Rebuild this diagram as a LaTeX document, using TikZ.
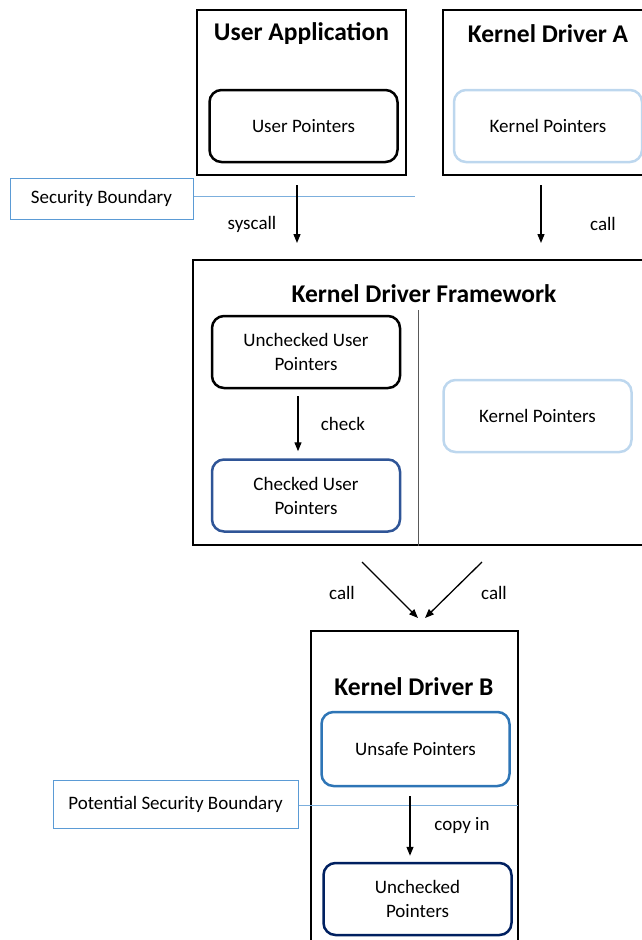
\documentclass[tikz,border=0pt]{standalone}
\usepackage{fontspec}
\setmainfont{Carlito}
\usetikzlibrary{arrows.meta}
\definecolor{paleblue}{HTML}{BDD7EE}
\definecolor{midblue}{HTML}{2E75B6}
\definecolor{checkblue}{HTML}{2F5597}
\definecolor{navyblue}{HTML}{002060}
\definecolor{bndblue}{HTML}{5B9BD5}
\definecolor{divgray}{HTML}{595959}

\begin{document}
\begin{tikzpicture}[x=1pt,y=-1pt,
  frame/.style={draw=black, line width=1.2pt, inner sep=0pt},
  heading/.style={font=\fontsize{25.5}{30}\selectfont\bfseries, inner sep=0pt},
  ptr/.style={draw, rounded corners=12pt, line width=2.5pt, align=center,
    inner sep=0pt, minimum width=188pt, minimum height=72pt,
    font=\fontsize{19}{24}\selectfont},
  bound/.style={draw=bndblue, line width=1pt, inner sep=0pt,
    font=\fontsize{19}{23}\selectfont},
  bline/.style={draw=bndblue!80, line width=0.9pt},
  flow/.style={-{Triangle[length=9pt,width=7pt]}, line width=1.3pt},
  lbl/.style={font=\fontsize{19}{23}\selectfont, inner sep=0pt}]
\useasboundingbox (0,0) rectangle (642,940);
\clip (0,0) rectangle (642,940);

% top row: user application and driver A
\node[frame, minimum width=209pt, minimum height=165pt] (ua) at (301.5,92.5) {};
\node[heading] (uat) at (301.5,34) {User Application};
\node[ptr] (up) at (303.5,126) {User Pointers};

\node[frame, minimum width=212pt, minimum height=165pt] (kda) at (549,92.5) {};
\node[heading] (kdat) at (548,34) {Kernel Driver A};
\node[ptr, draw=paleblue] (kpa) at (548,126) {Kernel Pointers};

% security boundary
\node[bound, minimum width=183pt, minimum height=41pt] (sb) at (101.5,198.5) {Security Boundary};
\coordinate (sbend) at (415,196);
\draw[bline] (sb.east |- sbend) -- (sbend);

% calls into the framework
\coordinate (s1) at (297,185);
\coordinate (e1) at (297,243);
\coordinate (s2) at (541,185);
\coordinate (e2) at (541,243);
\draw[flow] (s1) -- (e1);
\draw[flow] (s2) -- (e2);
\node[lbl] (lsys) at (252,224) {syscall};
\node[lbl] (lcall1) at (603,224) {call};

% framework
\node[frame, minimum width=467pt, minimum height=285pt] (fw) at (426.5,402.5) {};
\node[heading] (fwt) at (424,294) {Kernel Driver Framework};
\coordinate (dtop) at (418,310);
\draw[divgray, line width=1pt] (dtop) -- (dtop |- fw.south);
\node[ptr] (uup) at (306,352) {Unchecked User\\Pointers};
\node[ptr, draw=checkblue] (cup) at (306,495.5) {Checked User\\Pointers};
\draw[flow] ([xshift=-8pt,yshift=-7pt]uup.south) -- ([xshift=-8pt,yshift=7pt]cup.north);
\node[lbl] (lchk) at (343,424) {check};
\node[ptr, draw=paleblue] (kpf) at (537.5,416) {Kernel Pointers};

% calls into driver B
\coordinate (c1) at (362,562);
\coordinate (c2) at (482,562);
\coordinate (t1) at (418,618);
\coordinate (t2) at (425,618);
\draw[flow] (c1) -- (t1);
\draw[flow] (c2) -- (t2);
\node[lbl] (lcall2) at (342,593) {call};
\node[lbl] (lcall3) at (494,593) {call};

% driver B
\node[frame, minimum width=207pt, minimum height=318pt] (kdb) at (414.5,790) {};
\node[heading] (kdbt) at (414,687) {Kernel Driver B};
\node[ptr, draw=midblue, minimum height=74pt] (usp) at (415.5,749) {Unsafe Pointers};
\node[ptr, draw=navyblue] (unp) at (417.5,899) {Unchecked\\Pointers};

% potential boundary
\node[bound, minimum width=245pt, minimum height=48pt] (psb) at (175.5,804) {Potential Security Boundary};
\coordinate (psbend) at (518,805);
\draw[bline] (psb.east |- psbend) -- (psbend);

\draw[flow] ([xshift=-5.5pt,yshift=-9pt]usp.south) -- ([xshift=-7.5pt,yshift=6pt]unp.north);
\node[lbl] (lcopy) at (462,825) {copy in};
\end{tikzpicture}
\end{document}
